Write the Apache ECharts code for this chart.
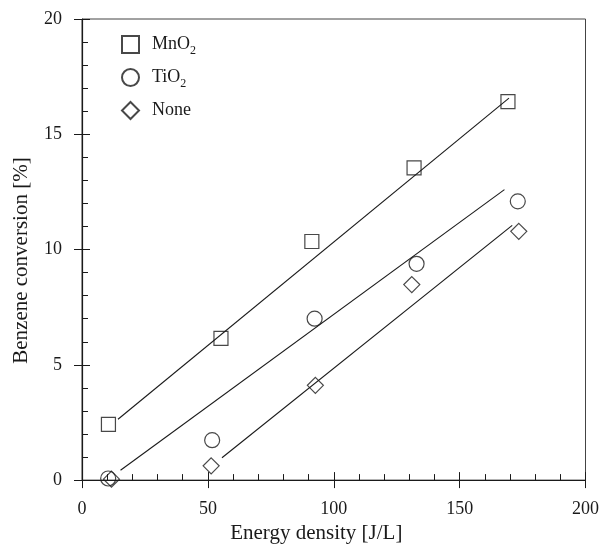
<!DOCTYPE html>
<html>
<head>
<meta charset="utf-8">
<script src="https://cdn.jsdelivr.net/npm/echarts@6/dist/echarts.min.js"></script>
<style>
  html, body { margin: 0; padding: 0; background: #fff; }
  #main { width: 602px; height: 549px; }
</style>
</head>
<body>
<div id="main"></div>
<script>
// measured points, energy density [J/L] vs benzene conversion [%]
var mno2 = [[10.5, 2.42], [55.2, 6.15], [91.3, 10.35], [131.9, 13.54], [169.2, 16.42]];
var tio2 = [[10.4, 0.07], [51.7, 1.73], [92.4, 7.0], [132.9, 9.38], [173.1, 12.09]];
var none = [[11.7, 0.04], [51.3, 0.62], [92.7, 4.11], [131, 8.48], [173.5, 10.79]];

// fitted lines (end points)
var fitMnO2 = [[14.3, 2.64], [169.6, 16.57]];
var fitTiO2 = [[15.3, 0.43], [167.8, 12.6]];
var fitNone = [[55.6, 0.97], [170.9, 11.05]];

var serif = "'Liberation Serif', 'Times New Roman', serif";
var ink = '#1a1a1a';

var myChart = echarts.init(document.getElementById('main'));

var fitLine = function (data) {
    return {
        type: 'line',
        data: data,
        symbol: 'none',
        silent: true,
        lineStyle: { color: ink, width: 1.1 }
    };
};

var marker = function (name, symbol, size, data) {
    return {
        name: name,
        type: 'scatter',
        data: data,
        symbol: symbol,
        symbolSize: size,
        itemStyle: { color: 'rgba(255,255,255,0)', borderColor: ink, borderWidth: 1.2 },
        z: 3
    };
};

var option = {
    backgroundColor: '#fff',
    animation: false,
    textStyle: { fontFamily: serif, color: ink },
    grid: {
        left: 82, right: 14, top: 19, bottom: 68,
        show: true, borderColor: '#444', borderWidth: 1
    },
    legend: {
        orient: 'vertical',
        left: 116,
        top: 27,
        itemWidth: 17,
        itemHeight: 17,
        itemGap: 8,
        data: ['MnO2', 'TiO2', 'None'],
        formatter: function (name) {
            if (name === 'None') return '{a|None}{s| }';
            return '{a|' + name.slice(0, -1) + '}{s|2}';
        },
        textStyle: {
            fontFamily: serif,
            color: ink,
            rich: {
                a: { fontFamily: serif, fontSize: 18, color: ink, lineHeight: 20, padding: [0, 0, 0, 8] },
                s: { fontFamily: serif, fontSize: 12, color: ink, lineHeight: 20, padding: [13, 0, 0, 0] }
            }
        }
    },
    xAxis: [{
        type: 'value',
        min: 0, max: 200, interval: 50,
        name: 'Energy density [J/L]',
        nameLocation: 'middle',
        nameGap: 42,
        nameTextStyle: { fontFamily: serif, fontSize: 21, color: ink, padding: [0, 35, 0, 0] },
        axisLine: { show: true, lineStyle: { color: ink, width: 1.2 } },
        axisTick: { show: true, inside: true, length: 8, lineStyle: { color: ink } },
        minorTick: { show: true, splitNumber: 5, length: 6, lineStyle: { color: ink } },
        axisLabel: { fontFamily: serif, fontSize: 18, color: ink, margin: 20 },
        splitLine: { show: false }
    }, {
        type: 'value',
        min: 0, max: 200, interval: 50,
        position: 'bottom',
        axisLine: { show: false },
        axisTick: { show: true, inside: false, length: 8, lineStyle: { color: ink } },
        axisLabel: { show: false },
        splitLine: { show: false }
    }],
    yAxis: [{
        type: 'value',
        min: 0, max: 20, interval: 5,
        name: 'Benzene conversion [%]',
        nameLocation: 'middle',
        nameGap: 50,
        nameTextStyle: { fontFamily: serif, fontSize: 21, color: ink, padding: [0, 22, 0, 0] },
        axisLine: { show: true, lineStyle: { color: ink, width: 1.2 } },
        axisTick: { show: true, inside: true, length: 8, lineStyle: { color: ink } },
        minorTick: { show: true, splitNumber: 5, length: 6, lineStyle: { color: ink } },
        axisLabel: { fontFamily: serif, fontSize: 18, color: ink, margin: 20 },
        splitLine: { show: false }
    }, {
        type: 'value',
        min: 0, max: 20, interval: 5,
        position: 'left',
        axisLine: { show: false },
        axisTick: { show: true, inside: false, length: 8, lineStyle: { color: ink } },
        axisLabel: { show: false },
        splitLine: { show: false }
    }],
    series: [
        fitLine(fitMnO2),
        fitLine(fitTiO2),
        fitLine(fitNone),
        marker('MnO2', 'rect', 14, mno2),
        marker('TiO2', 'circle', 15, tio2),
        marker('None', 'diamond', 16, none)
    ]
};

myChart.setOption(option);
</script>
</body>
</html>
